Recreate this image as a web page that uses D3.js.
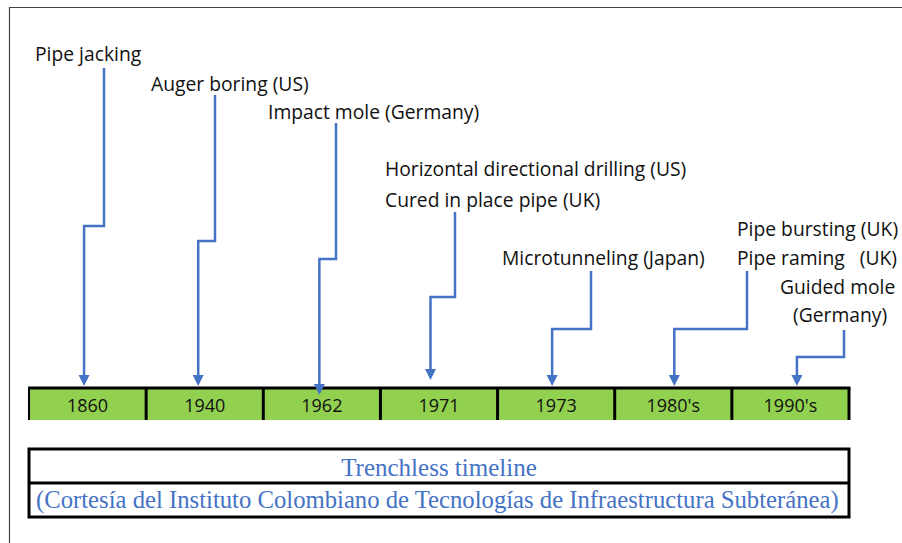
<!DOCTYPE html>
<html lang="en">
  <head>
    <meta charset="utf-8">
    <title>Trenchless timeline</title>
    <script src="https://d3js.org/d3.v7.min.js"></script>
    <style>
      body { margin: 0; background: #fff; }
    </style>
  </head>

  <body>

  <script>

// Data

  var years = ["1860", "1940", "1962", "1971", "1973", "1980's", "1990's"];

  var techniques = [
      ["Pipe jacking"],
      ["Auger boring (US)"],
      ["Impact mole (Germany)"],
      ["Horizontal directional drilling (US)", "Cured in place pipe (UK)"],
      ["Microtunneling (Japan)"],
      ["Pipe bursting (UK)", "Pipe raming\u00a0\u00a0 (UK)"],
      ["Guided mole", "(Germany)"]
  ];

  var captionTitle = "Trenchless timeline";
  var captionSource = "(Cortes\u00eda del Instituto Colombiano de Tecnolog\u00edas de Infraestructura Subter\u00e1nea)";

// Layout: label line anchors and connector elbows for each technique

  var labelLayout = [
      {x: [35],       y: [61]},
      {x: [151],      y: [90.5]},
      {x: [268],      y: [119]},
      {x: [385, 385], y: [176, 206.5]},
      {x: [502],      y: [265]},
      {x: [737, 737], y: [236, 265]},
      {x: [780, 793], y: [294, 322]}
  ];

  var connectors = [
      {x1: 104, y1: 68,  yElbow: 226, tipOffset: -3.5, tipY: 386},
      {x1: 215, y1: 95,  yElbow: 241, tipOffset: -6.5, tipY: 386},
      {x1: 336, y1: 123, yElbow: 259, tipOffset: -2.5, tipY: 395},
      {x1: 455, y1: 212, yElbow: 297, tipOffset: -8.5, tipY: 380},
      {x1: 591, y1: 271, yElbow: 329, tipOffset: -4,   tipY: 386},
      {x1: 747, y1: 271, yElbow: 329, tipOffset: 1,    tipY: 386},
      {x1: 844, y1: 330, yElbow: 357, tipOffset: 6.5,  tipY: 386}
  ];

  var w = 902;
  var h = 543;
  var blue = "#4472C4";
  var sans = "'Open Sans', 'Noto Sans', sans-serif";
  var serif = "'Liberation Serif', 'Times New Roman', serif";
  var bar = {left: 29, right: 849, top: 388, bottom: 420};
  var box = {top: 449, mid: 483, bottom: 517};

  var svg = d3.select("body")
    .append("svg")
      .attr("width", w)
      .attr("height", h);

  // frame (top and left only)
  svg.append("path")
      .attr("d", `M${w},7.5 H9.5 V${h}`)
      .attr("fill", "none")
      .attr("stroke", "#444")
      .attr("stroke-width", 1.2);

  var xScale = d3.scaleBand()
      .domain(years)
      .range([bar.left, bar.right]);

// Timeline bar

  var cells = svg.append("g");

  cells.selectAll("rect")
      .data(years)
    .enter().append("rect")
      .attr("x", d => xScale(d))
      .attr("y", bar.top)
      .attr("width", xScale.bandwidth())
      .attr("height", bar.bottom - bar.top)
      .attr("fill", "#92D050");

  cells.append("line")
      .attr("x1", bar.left - 1)
      .attr("x2", bar.right + 1.5)
      .attr("y1", bar.top)
      .attr("y2", bar.top)
      .attr("stroke", "#000")
      .attr("stroke-width", 3);

  cells.selectAll("line.sep")
      .data(years.concat(["end"]))
    .enter().append("line")
      .attr("class", "sep")
      .attr("x1", (d, i) => i < years.length ? xScale(d) : bar.right)
      .attr("x2", (d, i) => i < years.length ? xScale(d) : bar.right)
      .attr("y1", bar.top)
      .attr("y2", bar.bottom)
      .attr("stroke", "#000")
      .attr("stroke-width", (d, i) => i == 0 ? 2 : 3);

  cells.selectAll("text")
      .data(years)
    .enter().append("text")
      .attr("x", d => xScale(d) + xScale.bandwidth() / 2)
      .attr("y", 412)
      .attr("text-anchor", "middle")
      .attr("font-family", sans)
      .attr("font-size", 18)
      .attr("fill", "#111")
      .text(d => d);

// Labels

  var labels = svg.append("g")
      .attr("font-family", sans)
      .attr("font-size", 19.3)
      .attr("fill", "#111");

  techniques.forEach(function (lines, i) {
    var lay = labelLayout[i];
    labels.selectAll(null)
        .data(lines)
      .enter().append("text")
        .attr("x", (d, j) => lay.x[j])
        .attr("y", (d, j) => lay.y[j])
        .text(d => d);
  });

// Connectors

  var conn = svg.append("g");

  conn.selectAll("path.link")
      .data(connectors)
    .enter().append("path")
      .attr("class", "link")
      .attr("fill", "none")
      .attr("stroke", blue)
      .attr("stroke-width", 2.5)
      .attr("d", (c, i) => {
        var xt = xScale(years[i]) + xScale.bandwidth() / 2 + c.tipOffset;
        return `M${c.x1},${c.y1} V${c.yElbow} H${xt} V${c.tipY - 9}`;
      });

  conn.selectAll("path.head")
      .data(connectors)
    .enter().append("path")
      .attr("class", "head")
      .attr("fill", blue)
      .attr("d", (c, i) => {
        var xt = xScale(years[i]) + xScale.bandwidth() / 2 + c.tipOffset;
        return `M${xt - 5.5},${c.tipY - 11} L${xt + 5.5},${c.tipY - 11} L${xt},${c.tipY} Z`;
      });

// Caption box

  var cap = svg.append("g");

  cap.append("rect")
      .attr("x", bar.left)
      .attr("y", box.top)
      .attr("width", bar.right - bar.left)
      .attr("height", box.bottom - box.top)
      .attr("fill", "#fff")
      .attr("stroke", "#000")
      .attr("stroke-width", 3);

  cap.append("line")
      .attr("x1", bar.left)
      .attr("x2", bar.right)
      .attr("y1", box.mid)
      .attr("y2", box.mid)
      .attr("stroke", "#000")
      .attr("stroke-width", 3);

  cap.append("text")
      .attr("x", (bar.left + bar.right) / 2)
      .attr("y", 476)
      .attr("text-anchor", "middle")
      .attr("font-family", serif)
      .attr("font-size", 25)
      .attr("fill", blue)
      .text(captionTitle);

  cap.append("text")
      .attr("x", 36)
      .attr("y", 508)
      .attr("font-family", serif)
      .attr("font-size", 24.7)
      .attr("fill", blue)
      .text(captionSource);

  </script>

  </body>

</html>
